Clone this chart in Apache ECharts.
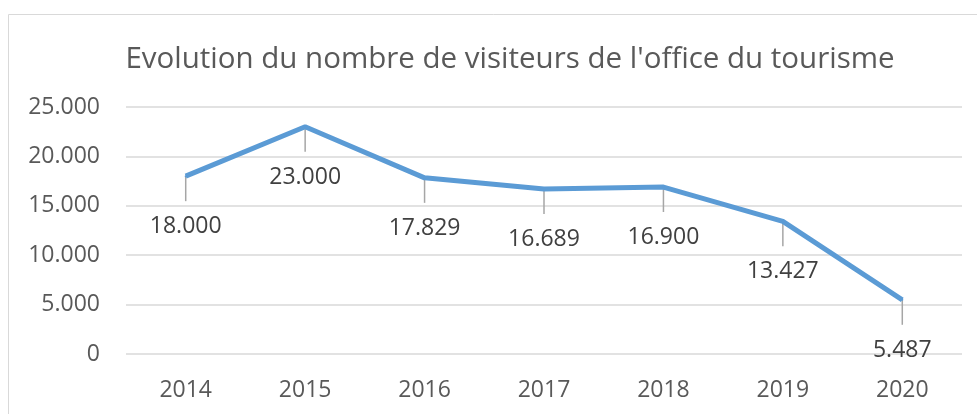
<!DOCTYPE html>
<html>
<head>
<meta charset="utf-8">
<script src="https://cdn.jsdelivr.net/npm/echarts@6/dist/echarts.min.js"></script>
<style>
  html, body { margin: 0; padding: 0; background: #fff; }
  #lineChart { width: 977px; height: 414px; }
</style>
</head>
<body>
<div id="lineChart"></div>
<script>
  // données
  const titre = "Evolution du nombre de visiteurs de l'office du tourisme";
  const annees = ['2014', '2015', '2016', '2017', '2018', '2019', '2020'];
  const visiteurs = [18000, 23000, 17829, 16689, 16900, 13427, 5487];

  // format 25.000
  function formatFr(v) {
    return String(v).replace(/\B(?=(\d{3})+(?!\d))/g, '.');
  }

  let chartContainer = document.getElementById('lineChart');
  let myChart = echarts.init(chartContainer);

  let option = {
    animation: false,
    textStyle: { fontFamily: 'Open Sans' },
    title: {
      text: titre,
      left: 505,
      top: 40,
      textAlign: 'center',
      textStyle: { fontSize: 29.5, fontWeight: 'normal', color: '#595959', fontFamily: 'Open Sans' }
    },
    graphic: [{
      type: 'rect',
      shape: { x: 8.5, y: 14.5, width: 1100, height: 600 },
      style: { fill: 'none', stroke: '#d9d9d9', lineWidth: 1 },
      silent: true
    }],
    grid: { left: 126, right: 15, top: 107, bottom: 60 },
    xAxis: {
      type: 'category',
      data: annees,
      boundaryGap: true,
      axisLine: { show: false },
      axisTick: { show: false },
      axisLabel: { fontSize: 23, color: '#595959', margin: 25 }
    },
    yAxis: {
      type: 'value',
      min: 0,
      max: 25000,
      interval: 5000,
      axisLabel: {
        fontSize: 23,
        color: '#595959',
        margin: 26,
        formatter: formatFr
      },
      splitLine: { lineStyle: { color: '#d9d9d9', width: 1.5 } }
    },
    series: [
      {
        // traits de rappel sous chaque point
        type: 'custom',
        data: visiteurs.map((v, i) => [i, v]),
        z: 1,
        silent: true,
        renderItem: function (params, api) {
          let p = api.coord([api.value(0), api.value(1)]);
          return {
            type: 'line',
            shape: { x1: p[0], y1: p[1], x2: p[0], y2: p[1] + 25 },
            style: { stroke: '#a6a6a6', lineWidth: 1.5 }
          };
        }
      },
      {
        type: 'line',
        data: visiteurs,
        z: 2,
        symbol: 'circle',
        symbolSize: 2,
        showSymbol: true,
        itemStyle: { color: '#5b9bd5' },
        lineStyle: { color: '#5b9bd5', width: 5 },
        label: {
          show: true,
          position: 'bottom',
          distance: 38,
          fontSize: 23,
          color: '#404040',
          formatter: function (params) {
            return formatFr(params.value);
          }
        }
      }
    ]
  };

  myChart.setOption(option);
</script>
</body>
</html>
